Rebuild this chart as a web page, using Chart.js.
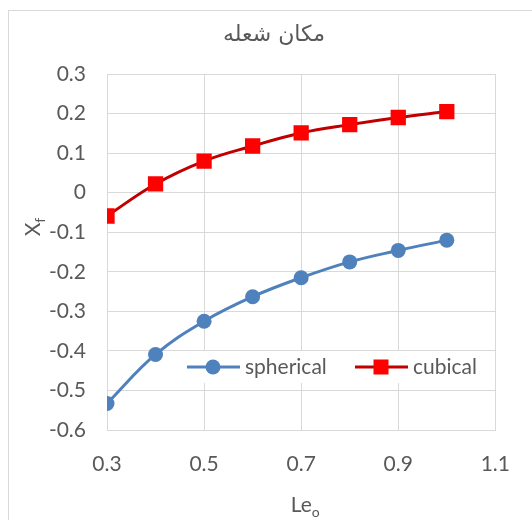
<!DOCTYPE html>
<html>
<head>
<meta charset="utf-8">
<script src="https://cdn.jsdelivr.net/npm/chart.js@4/dist/chart.umd.min.js"></script>
<style>
html, body { margin: 0; padding: 0; background: #fff; overflow: hidden; }
#frame { position: absolute; left: 8px; top: 10px; width: 560px; height: 560px; border: 1px solid #d9d9d9; }
#wrap { position: absolute; left: 0; top: 0; width: 532px; height: 520px; }
</style>
</head>
<body>
<div id="frame"></div>
<div id="wrap"><canvas id="chart" width="532" height="520"></canvas></div>
<script>
// Data ================================================================================================================
const chartTitle = 'مکان شعله';
const leValues = [0.3, 0.4, 0.5, 0.6, 0.7, 0.8, 0.9, 1.0];
const spherical = [-0.533, -0.409, -0.325, -0.263, -0.215, -0.175, -0.146, -0.120];
const cubical = [-0.059, 0.022, 0.080, 0.118, 0.151, 0.172, 0.190, 0.205];
const seriesNames = ['spherical', 'cubical'];
const xTicks = [0.3, 0.5, 0.7, 0.9, 1.1];
const yTicks = [-0.6, -0.5, -0.4, -0.3, -0.2, -0.1, 0, 0.1, 0.2, 0.3];
// =====================================================================================================================

const textColor = '#595959';
const gridColor = '#d9d9d9';
const fontFamily = 'Lato, "DejaVu Sans", sans-serif';

function toPoints(ys) {
    return leValues.map((x, i) => ({ x: x, y: ys[i] }));
}

// axis titles with subscripts
function drawSub(ctx, main, sub, cx, baseY) {
    ctx.font = '21px ' + fontFamily;
    const mw = ctx.measureText(main).width;
    ctx.font = '14px ' + fontFamily;
    const sw = ctx.measureText(sub).width;
    const x0 = cx - (mw + sw) / 2;
    ctx.font = '21px ' + fontFamily;
    ctx.fillText(main, x0, baseY);
    ctx.font = '14px ' + fontFamily;
    ctx.fillText(sub, x0 + mw, baseY + 5);
}

// title, axis titles and the legend that sits inside the plot
const decorations = {
    id: 'decorations',
    afterDraw(chart) {
        const ctx = chart.ctx;
        const a = chart.chartArea;
        const ds = chart.data.datasets;
        ctx.save();
        ctx.fillStyle = textColor;

        // title
        ctx.font = '22px "DejaVu Sans", sans-serif';
        ctx.textAlign = 'center';
        ctx.textBaseline = 'middle';
        ctx.fillText(chartTitle, 274, 35);

        ctx.textAlign = 'left';
        ctx.textBaseline = 'alphabetic';

        // x title: Le_o
        drawSub(ctx, 'Le', 'o', (a.left + a.right) / 2 + 4, 512);

        // y title: X_f
        ctx.save();
        ctx.translate(40, a.top + 153);
        ctx.rotate(-Math.PI / 2);
        ctx.fillStyle = textColor;
        drawSub(ctx, 'X', 'f', 0, 0);
        ctx.restore();

        // legend
        const ly = a.top + 293;
        ctx.fillStyle = '#fff';
        ctx.fillRect(a.left + 76, ly - 16, 310, 32);

        const items = [
            { x: a.left + 80, d: ds[0] },
            { x: a.left + 248, d: ds[1] }
        ];
        items.forEach(it => {
            const d = it.d;
            ctx.strokeStyle = d.borderColor;
            ctx.lineWidth = d.borderWidth;
            ctx.beginPath();
            ctx.moveTo(it.x, ly);
            ctx.lineTo(it.x + 53, ly);
            ctx.stroke();
            ctx.fillStyle = d.pointBackgroundColor;
            const mx = it.x + 26;
            if (d.pointStyle === 'rect') {
                ctx.fillRect(mx - 7.5, ly - 7.5, 15, 15);
            } else {
                ctx.beginPath();
                ctx.arc(mx, ly, 7.5, 0, Math.PI * 2);
                ctx.fill();
            }
            ctx.fillStyle = textColor;
            ctx.font = '21px ' + fontFamily;
            ctx.textBaseline = 'middle';
            ctx.fillText(d.label, it.x + 58, ly);
        });
        ctx.restore();
    }
};

new Chart(document.getElementById('chart'), {
    type: 'line',
    data: {
        datasets: [
            {
                label: seriesNames[0],
                data: toPoints(spherical),
                borderColor: '#4f81bd',
                backgroundColor: '#4f81bd',
                pointBackgroundColor: '#4f81bd',
                pointBorderColor: '#4f81bd',
                borderWidth: 3,
                pointStyle: 'circle',
                pointRadius: 7.5,
                pointBorderWidth: 0,
                tension: 0.4
            },
            {
                label: seriesNames[1],
                data: toPoints(cubical),
                borderColor: '#c00000',
                backgroundColor: '#ff0000',
                pointBackgroundColor: '#ff0000',
                pointBorderColor: '#ff0000',
                borderWidth: 3,
                pointStyle: 'rect',
                pointRadius: 10.8,
                pointBorderWidth: 0,
                tension: 0.4
            }
        ]
    },
    options: {
        responsive: false,
        animation: false,
        layout: { padding: { left: 0, right: 35, top: 74, bottom: 0 } },
        plugins: {
            legend: { display: false },
            tooltip: { enabled: false },
            title: { display: false }
        },
        scales: {
            x: {
                type: 'linear',
                min: xTicks[0],
                max: xTicks[xTicks.length - 1],
                afterBuildTicks: s => { s.ticks = xTicks.map(v => ({ value: v })); },
                afterFit: s => { s.height = 90; },
                ticks: {
                    color: textColor,
                    font: { family: fontFamily, size: 21 },
                    padding: 22,
                    maxRotation: 0,
                    callback: v => v.toFixed(1)
                },
                grid: { color: gridColor, lineWidth: 1, drawTicks: false },
                border: { color: gridColor }
            },
            y: {
                min: yTicks[0],
                max: yTicks[yTicks.length - 1],
                afterBuildTicks: s => { s.ticks = yTicks.map(v => ({ value: v })); },
                afterFit: s => { s.width = 107; },
                ticks: {
                    color: textColor,
                    font: { family: fontFamily, size: 21 },
                    padding: 21,
                    callback: v => String(Math.round(v * 10) / 10)
                },
                grid: { color: gridColor, lineWidth: 1, drawTicks: false },
                border: { color: gridColor }
            }
        }
    },
    plugins: [decorations]
});
</script>
</body>
</html>
